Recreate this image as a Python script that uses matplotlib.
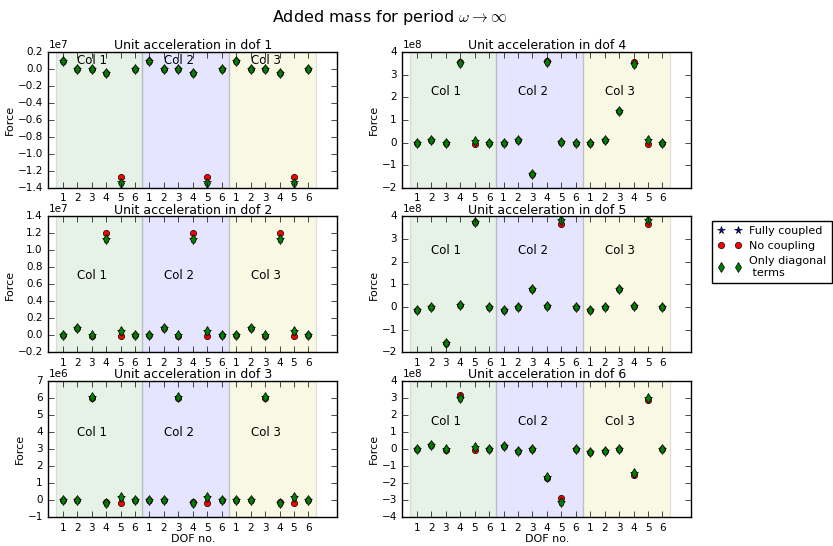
import numpy as np
import matplotlib
matplotlib.use("Agg")
import matplotlib.pyplot as plt
from matplotlib.ticker import MultipleLocator, ScalarFormatter

plt.style.use("classic")
plt.rcParams["figure.facecolor"] = "white"
plt.rcParams["savefig.facecolor"] = "white"
plt.rcParams["font.family"] = ["DejaVu Sans"]
plt.rcParams["mathtext.fontset"] = "cm"

# DOF labels, repeated for each of the three matrix columns
dof_labels = ["1", "2", "3", "4", "5", "6"]
col_names = ["Col 1", "Col 2", "Col 3"]
series_names = ["Fully coupled", "No coupling", "Only diagonal\n terms"]

# Force per unit acceleration in each dof (18 entries = 3 columns x 6 dofs)
dof1_full = np.array([0.09, 0.0, 0.0, -0.05, -1.33, 0.0,
                      0.09, 0.0, 0.0, -0.05, -1.33, 0.0,
                      0.09, 0.0, 0.0, -0.05, -1.33, 0.0]) * 1e7
dof1_nocoup = np.array([0.09, 0.0, 0.0, -0.05, -1.27, 0.0,
                        0.09, 0.0, 0.0, -0.05, -1.27, 0.0,
                        0.09, 0.0, 0.0, -0.05, -1.27, 0.0]) * 1e7
dof1_diag = np.array([0.09, 0.0, 0.0, -0.05, -1.34, 0.0,
                      0.09, 0.0, 0.0, -0.05, -1.34, 0.0,
                      0.09, 0.0, 0.0, -0.05, -1.34, 0.0]) * 1e7

dof2_full = np.array([0.0, 0.09, 0.0, 1.14, 0.05, 0.0,
                      0.0, 0.09, 0.0, 1.14, 0.05, 0.0,
                      0.0, 0.09, 0.0, 1.14, 0.05, 0.0]) * 1e7
dof2_nocoup = np.array([0.0, 0.09, -0.01, 1.20, -0.01, 0.0,
                        0.0, 0.09, -0.01, 1.20, -0.01, 0.0,
                        0.0, 0.09, -0.01, 1.20, -0.01, 0.0]) * 1e7
dof2_diag = np.array([0.0, 0.09, 0.0, 1.14, 0.05, 0.0,
                      0.0, 0.09, 0.0, 1.14, 0.05, 0.0,
                      0.0, 0.09, 0.0, 1.14, 0.05, 0.0]) * 1e7

dof3_full = np.array([0.0, 0.0, 6.05, -0.2, 0.2, 0.0,
                      0.0, 0.0, 6.05, -0.2, 0.2, 0.0,
                      0.0, 0.0, 6.05, -0.2, 0.2, 0.0]) * 1e6
dof3_nocoup = np.array([0.0, 0.0, 6.0, -0.1, -0.2, 0.0,
                        0.0, 0.0, 6.0, -0.1, -0.2, 0.0,
                        0.0, 0.0, 6.0, -0.1, -0.2, 0.0]) * 1e6
dof3_diag = np.array([0.0, 0.0, 6.05, -0.2, 0.2, 0.0,
                      0.0, 0.0, 6.05, -0.2, 0.2, 0.0,
                      0.0, 0.0, 6.05, -0.2, 0.2, 0.0]) * 1e6

dof4_full = np.array([0.0, 0.1, 0.0, 3.5, 0.07, 0.0,
                      0.0, 0.1, -1.4, 3.55, 0.02, 0.0,
                      0.0, 0.1, 1.4, 3.45, 0.1, 0.0]) * 1e8
dof4_nocoup = np.array([0.0, 0.1, 0.0, 3.55, -0.05, 0.0,
                        0.0, 0.1, -1.4, 3.58, 0.02, 0.0,
                        0.0, 0.1, 1.4, 3.55, -0.05, 0.0]) * 1e8
dof4_diag = np.array([0.0, 0.1, 0.0, 3.5, 0.07, 0.0,
                      0.0, 0.1, -1.4, 3.55, 0.02, 0.0,
                      0.0, 0.1, 1.4, 3.45, 0.1, 0.0]) * 1e8

dof5_full = np.array([-0.13, 0.0, -1.6, 0.1, 3.75, 0.0,
                      -0.13, 0.0, 0.82, 0.05, 3.85, 0.0,
                      -0.13, 0.0, 0.82, 0.05, 3.85, 0.0]) * 1e8
dof5_nocoup = np.array([-0.13, 0.0, -1.6, 0.1, 3.75, 0.0,
                        -0.13, 0.0, 0.82, 0.05, 3.68, 0.0,
                        -0.13, 0.0, 0.82, 0.05, 3.68, 0.0]) * 1e8
dof5_diag = np.array([-0.13, 0.0, -1.6, 0.1, 3.75, 0.0,
                      -0.13, 0.0, 0.82, 0.05, 3.85, 0.0,
                      -0.13, 0.0, 0.82, 0.05, 3.85, 0.0]) * 1e8

dof6_full = np.array([0.0, 0.25, 0.0, 3.0, 0.1, 0.0,
                      0.2, -0.12, 0.0, -1.65, -3.1, 0.0,
                      -0.2, -0.12, 0.0, -1.4, 3.0, 0.0]) * 1e8
dof6_nocoup = np.array([0.0, 0.25, -0.03, 3.2, -0.05, 0.0,
                        0.2, -0.12, 0.0, -1.72, -2.9, 0.0,
                        -0.2, -0.12, 0.0, -1.5, 2.9, 0.0]) * 1e8
dof6_diag = np.array([0.0, 0.25, 0.0, 3.0, 0.1, 0.0,
                      0.2, -0.12, 0.0, -1.65, -3.1, 0.0,
                      -0.2, -0.12, 0.0, -1.4, 3.0, 0.0]) * 1e8

panels = [
    ("Unit acceleration in dof 1", dof1_full, dof1_nocoup, dof1_diag),
    ("Unit acceleration in dof 2", dof2_full, dof2_nocoup, dof2_diag),
    ("Unit acceleration in dof 3", dof3_full, dof3_nocoup, dof3_diag),
    ("Unit acceleration in dof 4", dof4_full, dof4_nocoup, dof4_diag),
    ("Unit acceleration in dof 5", dof5_full, dof5_nocoup, dof5_diag),
    ("Unit acceleration in dof 6", dof6_full, dof6_nocoup, dof6_diag),
]

# axis limits, tick steps and height of the column labels for each panel
ylims = [(-1.4e7, 0.2e7), (-0.2e7, 1.4e7), (-1e6, 7e6),
         (-2e8, 4e8), (-2e8, 4e8), (-4e8, 4e8)]
ysteps = [0.2e7, 0.2e7, 1e6, 1e8, 1e8, 1e8]
label_y = [0.1e7, 0.7e7, 4e6, 2.25e8, 2.5e8, 1.6e8]

fig, axes = plt.subplots(3, 2, figsize=(8.33, 5.46), dpi=100)
fig.subplots_adjust(left=0.058, right=0.83, top=0.905, bottom=0.053,
                    wspace=0.225, hspace=0.21)

x = np.arange(1, 19)
span_colors = ["g", "b", "y"]
FS = 8

handles = None
for i, (title, full, nocoup, diag) in enumerate(panels):
    ax = axes[i % 3, i // 3]
    for k in range(3):
        ax.axvspan(0.5 + 6 * k, 6.5 + 6 * k, facecolor=span_colors[k],
                   edgecolor="k", alpha=0.1)
        ax.text(2 + 6 * k, label_y[i], col_names[k], fontsize=FS + 0.5,
                ha="left", va="center")
    h1, = ax.plot(x, full, "b*", ms=5.5, mec="k", mew=0.5, label=series_names[0])
    h2, = ax.plot(x, nocoup, "ro", ms=4.5, mec="k", mew=0.5, label=series_names[1])
    h3, = ax.plot(x, diag, "gd", ms=5.5, mec="k", mew=0.5, label=series_names[2])
    handles = [h1, h2, h3]
    ax.set_xlim(0, 20)
    ax.set_ylim(*ylims[i])
    ax.yaxis.set_major_locator(MultipleLocator(ysteps[i]))
    fmt = ScalarFormatter(useMathText=False)
    fmt.set_powerlimits((-3, 3))
    ax.yaxis.set_major_formatter(fmt)
    ax.set_xticks(x)
    ax.set_xticklabels(dof_labels * 3)
    ax.tick_params(labelsize=7.5)
    ax.yaxis.get_offset_text().set_fontsize(7.5)
    ax.set_title(title, fontsize=9, pad=2)
    ax.set_ylabel("Force", fontsize=FS, labelpad=2)
    if i % 3 == 2:
        ax.set_xlabel("DOF no.", fontsize=FS, labelpad=1)

fig.legend(handles, series_names, loc="upper left",
           bbox_to_anchor=(0.855, 0.595), numpoints=2, fontsize=8,
           borderaxespad=0.0, handlelength=2.2, handletextpad=0.7,
           labelspacing=0.45, borderpad=0.45)

fig.suptitle(r"Added mass for period $\omega\rightarrow\infty$", fontsize=11.5,
             x=0.468, y=0.985)

fig.savefig("out.png", dpi=100)
